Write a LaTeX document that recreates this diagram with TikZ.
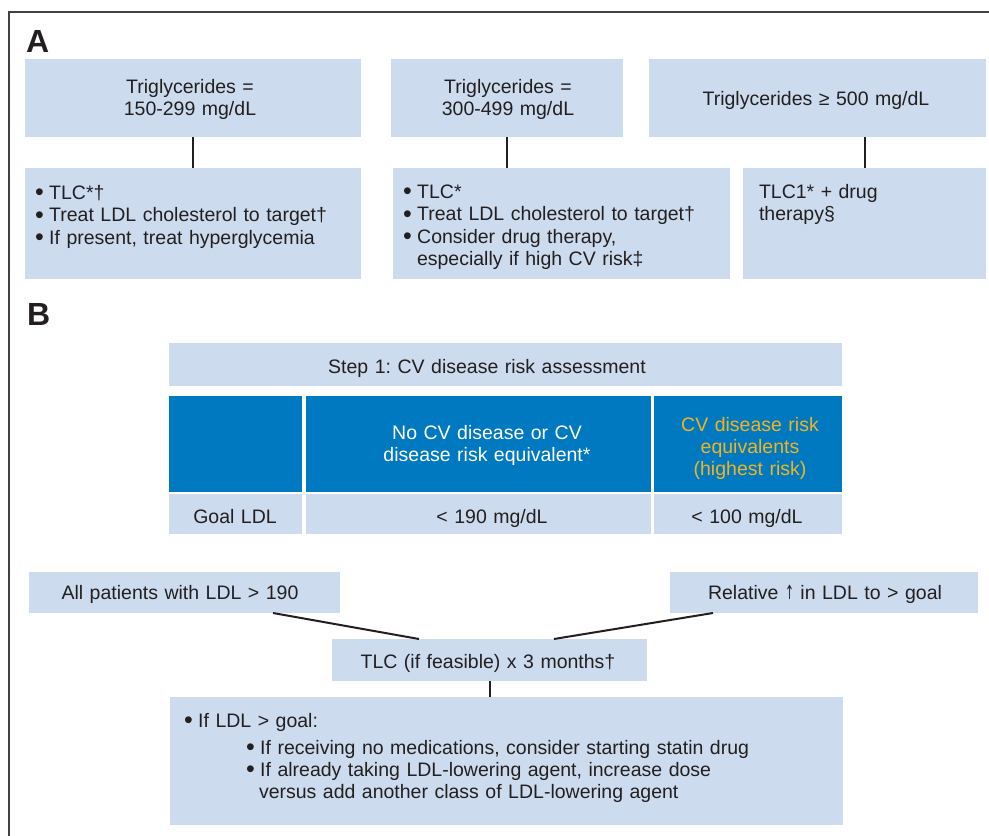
\documentclass[tikz,border=0pt]{standalone}
\usepackage{fontspec}
\usepackage{graphicx}
\setmainfont{Liberation Sans}
\newfontfamily\dejavu{DejaVu Sans}
\usetikzlibrary{calc}
\definecolor{lb}{RGB}{204,220,238}
\definecolor{db}{RGB}{0,121,193}
\definecolor{gold}{RGB}{240,180,35}
\definecolor{ink}{RGB}{35,31,32}
\newcommand\mkbox[6]{%
 \pgfmathsetmacro\bxw{#5-#3}\pgfmathsetmacro\bxh{#6-#4}%
 \pgfmathsetmacro\bxx{(#3+#5)/2}\pgfmathsetmacro\bxy{(#4+#6)/2}%
 \node[#2,minimum width=\bxw pt,minimum height=\bxh pt] (#1) at (\bxx,\bxy) {};}
\newcommand\bul{\raisebox{-0.08em}{\fontsize{25}{25}\selectfont •}\hspace{0.28em}}
\newcommand\uparr{{\dejavu\scalebox{0.55}[1]{↑}}}
\frenchspacing
\begin{document}
\begin{tikzpicture}[x=1pt,y=-1pt,
  box/.style={fill=lb,draw=none,inner sep=0pt,outer sep=0pt},
  hbox/.style={fill=db,draw=none,inner sep=0pt,outer sep=0pt},
  txt/.style={inner sep=0pt,outer sep=0pt,text=ink,font=\fontsize{19.5}{22.5}\selectfont},
  ctxt/.style={txt,anchor=base,align=center,text width=#1},
  ltxt/.style={txt,anchor=base west,align=left,text width=#1},
  conn/.style={draw=ink,line width=2pt},
  lab/.style={inner sep=0pt,anchor=base west,text=ink,font=\fontsize{32}{32}\bfseries\selectfont}
]
\useasboundingbox (0,0) rectangle (989,836);
\fill[white] (0,0) rectangle (989,836);
% frame
\draw[line width=1.4pt,ink!85,line join=miter] (989,12) -- (9,12) -- (9,836);

% ---------- Panel A ----------
\node[lab] (labA) at (26,52) {A};
\mkbox{a1t}{box}{25}{59}{361}{137}
\mkbox{a2t}{box}{391}{59}{623}{137}
\mkbox{a3t}{box}{649}{59}{986}{137}
\mkbox{a1b}{box}{25}{168}{361}{279}
\mkbox{a2b}{box}{393}{168}{730}{279}
\mkbox{a3b}{box}{743}{168}{986}{279}

\draw[conn] (a1t.south) -- (a1t.south |- a1b.north);
\draw[conn] (a2t.south) -- (a2t.south |- a2b.north);
\draw[conn] (a3b.north) -- (a3b.north |- a3t.south);

\node[ctxt=320pt] (ta1t) at (190,93) {Triglycerides =\\150-299 mg/dL};
\node[ctxt=220pt] (ta2t) at (508,93) {Triglycerides =\\300-499 mg/dL};
\node[ctxt=320pt] (ta3t) at (816,105) {Triglycerides ≥ 500 mg/dL};

\node[ltxt=320pt] (ta1b) at (35,199) {\bul TLC*†\\\bul Treat LDL cholesterol to target†\\\bul If present, treat hyperglycemia};
\node[ltxt=330pt] (ta2b) at (403,198) {\bul TLC*\\\bul Treat LDL cholesterol to target†\\\bul Consider drug therapy,\\\hspace*{14pt}especially if high CV risk‡};
\node[ltxt=220pt] (ta3b) at (759,198) {TLC1* + drug\\therapy§};

% ---------- Panel B ----------
\node[lab] (labB) at (27,325) {B};
\mkbox{step}{box}{169}{343}{842}{386}
\node[ctxt=600pt] (tstep) at (487,373) {Step 1: CV disease risk assessment};

\mkbox{h1}{hbox}{169}{396}{302}{492}
\mkbox{h2}{hbox}{306}{396}{651}{492}
\mkbox{h3}{hbox}{654}{396}{842}{492}
\mkbox{r1}{box}{169}{494}{302}{534}
\mkbox{r2}{box}{306}{494}{651}{534}
\mkbox{r3}{box}{654}{494}{842}{534}

\node[ctxt=330pt,text=white] (th2) at (487,439) {No CV disease or CV\\disease risk equivalent*};
\node[ctxt=185pt,text=gold,font=\fontsize{19.5}{22}\selectfont] (th3) at (750,431) {CV disease risk\\equivalents\\(highest risk)};
\node[ctxt=130pt] (tr1) at (235,523) {Goal LDL};
\node[ctxt=330pt] (tr2) at (492,523) {< 190 mg/dL};
\node[ctxt=185pt] (tr3) at (747,523) {< 100 mg/dL};

\mkbox{p1}{box}{29}{572}{340}{613}
\mkbox{p2}{box}{670}{572}{978}{613}
\mkbox{tlc}{box}{332}{639}{647}{681}
\mkbox{fin}{box}{170}{697}{843}{825}

\draw[conn] ([xshift=244pt]p1.south west) -- ([xshift=87pt]tlc.north west);
\draw[conn] ([xshift=43pt]p2.south west) -- ([xshift=222pt]tlc.north west);
\draw[conn] (tlc.south) -- (tlc.south |- fin.north);

\node[ctxt=300pt] (tp1) at (180,599) {All patients with LDL > 190};
\node[ctxt=300pt] (tp2) at (825,599) {Relative \uparr\ in LDL to > goal};
\node[ctxt=300pt] (ttlc) at (488,668) {TLC (if feasible) x 3 months†};

\node[ltxt=300pt] (tf1) at (184,727) {\bul If LDL > goal:};
\node[ltxt=560pt,font=\fontsize{19.5}{22}\selectfont] (tf2) at (246,754) {\bul If receiving no medications, consider starting statin drug\\\bul If already taking LDL-lowering agent, increase dose\\\hspace*{13pt}versus add another class of LDL-lowering agent};
\end{tikzpicture}
\end{document}
